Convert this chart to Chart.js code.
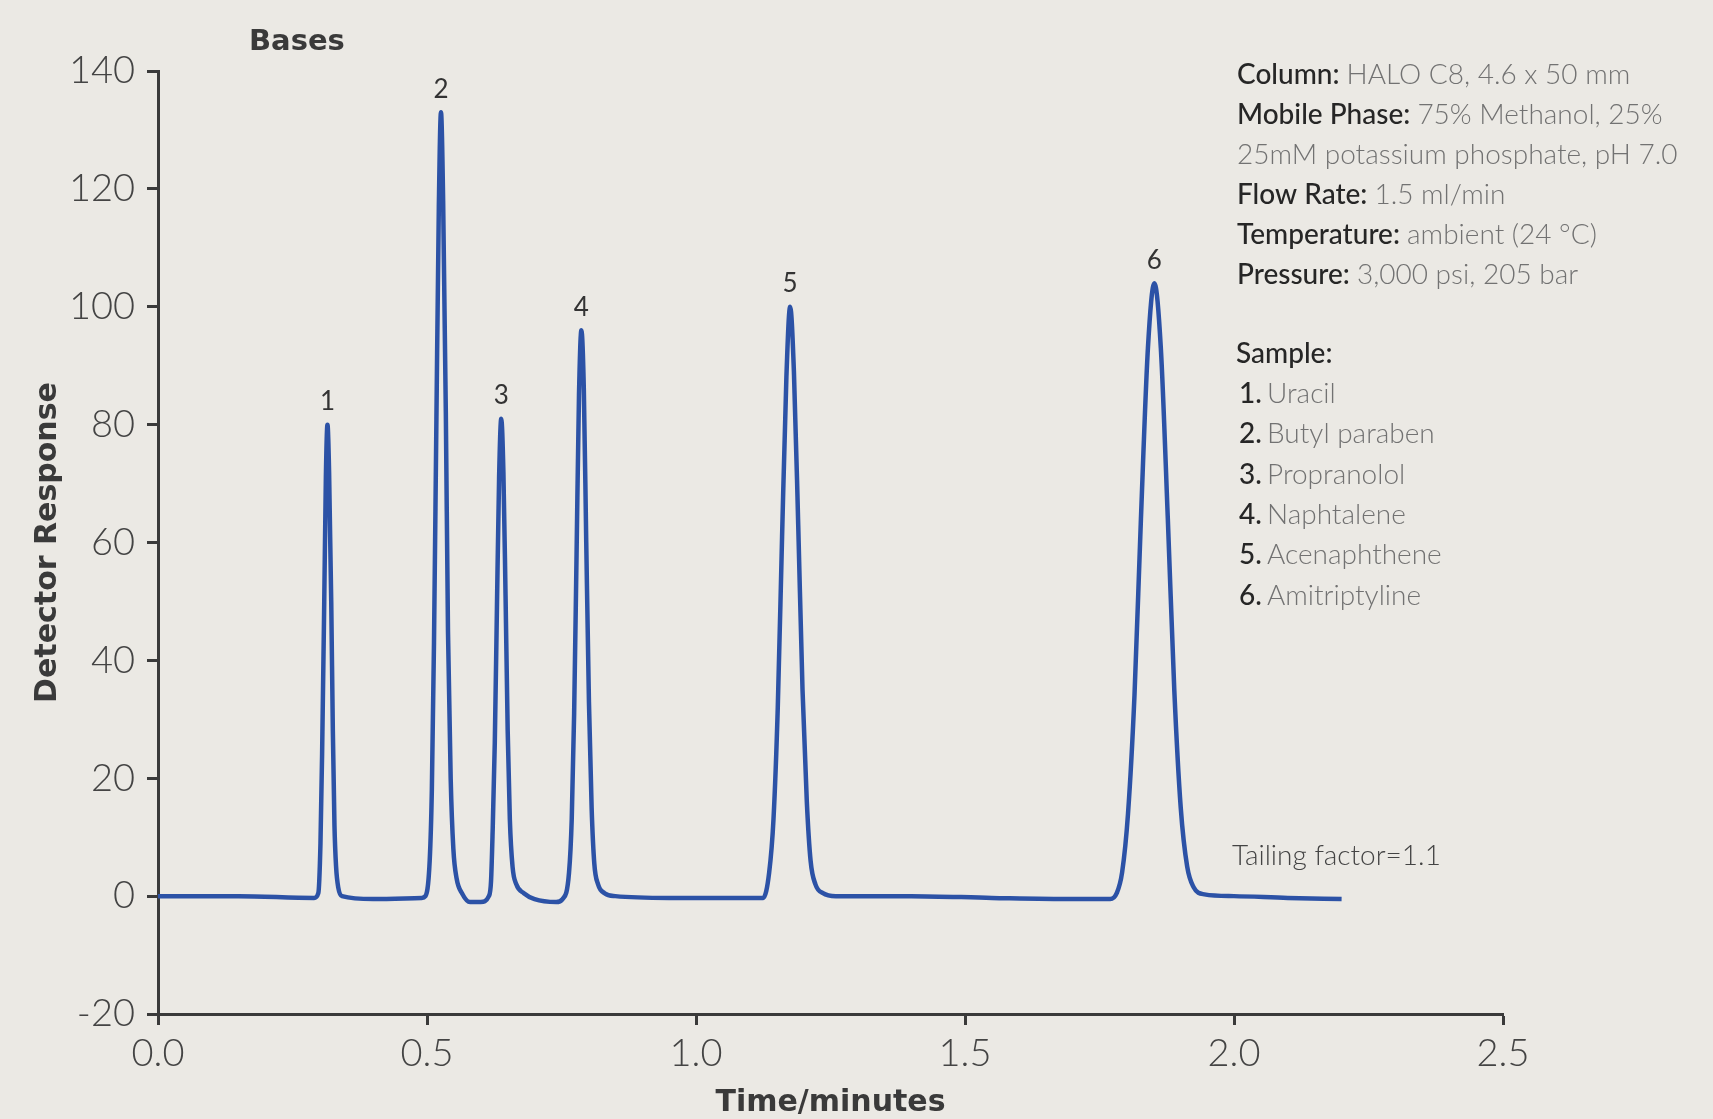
<!DOCTYPE html>
<html>
<head>
<meta charset="utf-8">
<script src="https://cdn.jsdelivr.net/npm/chart.js@4.4.1/dist/chart.umd.min.js"></script>
<style>
  html, body { margin: 0; padding: 0; background: #ebe9e4; }
  #chart { display: block; }
</style>
</head>
<body>
<canvas id="chart" width="1713" height="1119"></canvas>
<script>
// chromatogram trace (time in minutes, detector response)
const times = [
  0.000, 0.150, 0.290, 0.298, 0.302, 0.305, 0.309, 0.312, 0.315, 0.318, 0.322, 0.325, 0.328, 0.331, 0.335, 0.342, 0.400, 0.490,
  0.497, 0.505, 0.509, 0.513, 0.5175, 0.522, 0.526, 0.530, 0.535, 0.539, 0.544, 0.549, 0.555, 0.565, 0.580, 0.600,
  0.615, 0.619, 0.622, 0.626, 0.630, 0.634, 0.638, 0.642, 0.646, 0.650, 0.654, 0.659, 0.666, 0.680, 0.700, 0.740,
  0.752, 0.764, 0.769, 0.7735, 0.778, 0.7825, 0.787, 0.7915, 0.796, 0.801, 0.806, 0.811, 0.818, 0.830, 0.850, 0.950, 1.100,
  1.125, 1.136, 1.144, 1.152, 1.160, 1.168, 1.175, 1.182, 1.190, 1.198, 1.206, 1.213, 1.222, 1.236, 1.260, 1.400, 1.550, 1.700, 1.770,
  1.782, 1.792, 1.803, 1.815, 1.827, 1.840, 1.852, 1.864, 1.877, 1.889, 1.901, 1.913, 1.925, 1.945, 2.000, 2.100, 2.200
];
const response = [
  0, 0, -0.3, 0.5, 9, 24, 50, 71, 80, 72, 50, 28, 12, 5, 1.5, 0, -0.5, -0.3,
  0, 6, 18, 43, 81, 117, 133, 118, 82, 45, 20, 8, 3, 0.5, -1, -1,
  0, 2.5, 11, 26, 49, 71, 81, 72, 51, 28, 13, 5, 2, 0.5, -0.5, -1,
  -0.5, 4, 13, 31, 58, 85, 96, 86, 60, 33, 15, 5.5, 2, 0.5, 0, -0.3, -0.3,
  -0.3, 4, 13, 32, 61, 88, 100, 89, 63, 35, 16, 6, 2, 0.5, 0, 0, -0.3, -0.5, -0.5,
  0.5, 4, 14, 34, 64, 93, 104, 93, 64, 35, 15, 5, 1.5, 0.3, 0, -0.3, -0.5
];

const peakLabels = ['1', '2', '3', '4', '5', '6'];
const peakTimes = [0.315, 0.526, 0.638, 0.787, 1.175, 1.852];
const peakHeights = [80, 133, 81, 96, 100, 104];

const infoLabels = ['Column:', 'Mobile Phase:', '', 'Flow Rate:', 'Temperature:', 'Pressure:'];
const infoValues = ['HALO C8, 4.6 x 50 mm', '75% Methanol, 25%', '25mM potassium phosphate, pH 7.0',
  '1.5 ml/min', 'ambient (24 °C)', '3,000 psi, 205 bar'];
const sampleNames = ['Uracil', 'Butyl paraben', 'Propranolol', 'Naphtalene', 'Acenaphthene', 'Amitriptyline'];

const FONT = 'Lato, "Open Sans", sans-serif';
const BOLD_FONT = '"DejaVu Sans", Verdana, sans-serif';

const points = times.map((t, i) => ({ x: t, y: response[i] }));

const background = {
  id: 'background',
  beforeDraw(chart) {
    const c = chart.ctx;
    c.save();
    c.fillStyle = '#ebe9e4';
    c.fillRect(0, 0, chart.width, chart.height);
    c.restore();
  }
};

const textBits = {
  id: 'textBits',
  afterDraw(chart) {
    const c = chart.ctx;
    const xs = chart.scales.x;
    const ys = chart.scales.y;
    c.save();

    // peak numbers
    c.fillStyle = '#333';
    c.font = '26px ' + FONT;
    c.textAlign = 'center';
    c.textBaseline = 'middle';
    peakLabels.forEach((lab, i) => {
      c.fillText(lab, xs.getPixelForValue(peakTimes[i]), ys.getPixelForValue(peakHeights[i]) - 23);
    });

    // title
    c.textAlign = 'left';
    c.font = 'bold 29px ' + BOLD_FONT;
    c.fillStyle = '#3a3a3a';
    c.fillText('Bases', 249, 42);

    // conditions block
    let x0 = 1237;
    infoLabels.forEach((lab, i) => {
      let y = 75 + i * 40;
      let x = x0;
      if (lab) {
        c.font = '500 28px ' + FONT;
        c.fillStyle = '#262626';
        c.fillText(lab, x, y);
        x += c.measureText(lab + ' ').width;
      }
      c.font = '300 28px ' + FONT;
      c.fillStyle = '#727272';
      c.fillText(infoValues[i], x, y);
    });

    c.font = '500 28px ' + FONT;
    c.fillStyle = '#262626';
    c.fillText('Sample:', 1236, 354);
    sampleNames.forEach((name, i) => {
      let y = 394 + i * 40.3;
      c.font = '500 28px ' + FONT;
      c.fillStyle = '#262626';
      c.fillText((i + 1) + '.', 1239, y);
      c.font = '300 28px ' + FONT;
      c.fillStyle = '#727272';
      c.fillText(name, 1267, y);
    });

    c.font = '300 28px ' + FONT;
    c.fillStyle = '#444';
    c.fillText('Tailing factor=1.1', 1232, 856);

    c.restore();
  }
};

new Chart(document.getElementById('chart'), {
  type: 'line',
  data: {
    datasets: [{
      data: points,
      borderColor: '#2c52a6',
      borderWidth: 4.5,
      pointRadius: 0,
      fill: false,
      cubicInterpolationMode: 'monotone'
    }]
  },
  options: {
    responsive: false,
    animation: false,
    devicePixelRatio: 1,
    layout: { padding: { top: 71, right: 210, bottom: 0, left: 0 } },
    plugins: {
      legend: { display: false },
      tooltip: { enabled: false }
    },
    scales: {
      x: {
        type: 'linear',
        min: 0,
        max: 2.5,
        afterFit: (scale) => { scale.height = 105; },
        border: { display: true, color: '#3a3a3a', width: 3 },
        grid: { drawOnChartArea: false, drawTicks: true, tickLength: 11, tickColor: '#3a3a3a', tickWidth: 3 },
        ticks: {
          stepSize: 0.5,
          padding: 6,
          color: '#444',
          font: { family: FONT, size: 38, weight: '300' },
          callback: (v) => v.toFixed(1)
        },
        title: {
          display: true,
          text: 'Time/minutes',
          color: '#3a3a3a',
          font: { family: BOLD_FONT, size: 30, weight: 'bold' },
          padding: { top: 0, bottom: -2 }
        }
      },
      y: {
        min: -20,
        max: 140,
        afterFit: (scale) => { scale.width = 158; },
        border: { display: true, color: '#3a3a3a', width: 3 },
        grid: { drawOnChartArea: false, drawTicks: true, tickLength: 11, tickColor: '#3a3a3a', tickWidth: 3 },
        ticks: {
          stepSize: 20,
          padding: 12,
          color: '#444',
          font: { family: FONT, size: 38, weight: '300' }
        },
        title: {
          display: true,
          text: 'Detector Response',
          color: '#3a3a3a',
          font: { family: BOLD_FONT, size: 30, weight: 'bold' },
          padding: { top: 30, bottom: 0 }
        }
      }
    }
  },
  plugins: [background, textBits]
});
</script>
</body>
</html>
